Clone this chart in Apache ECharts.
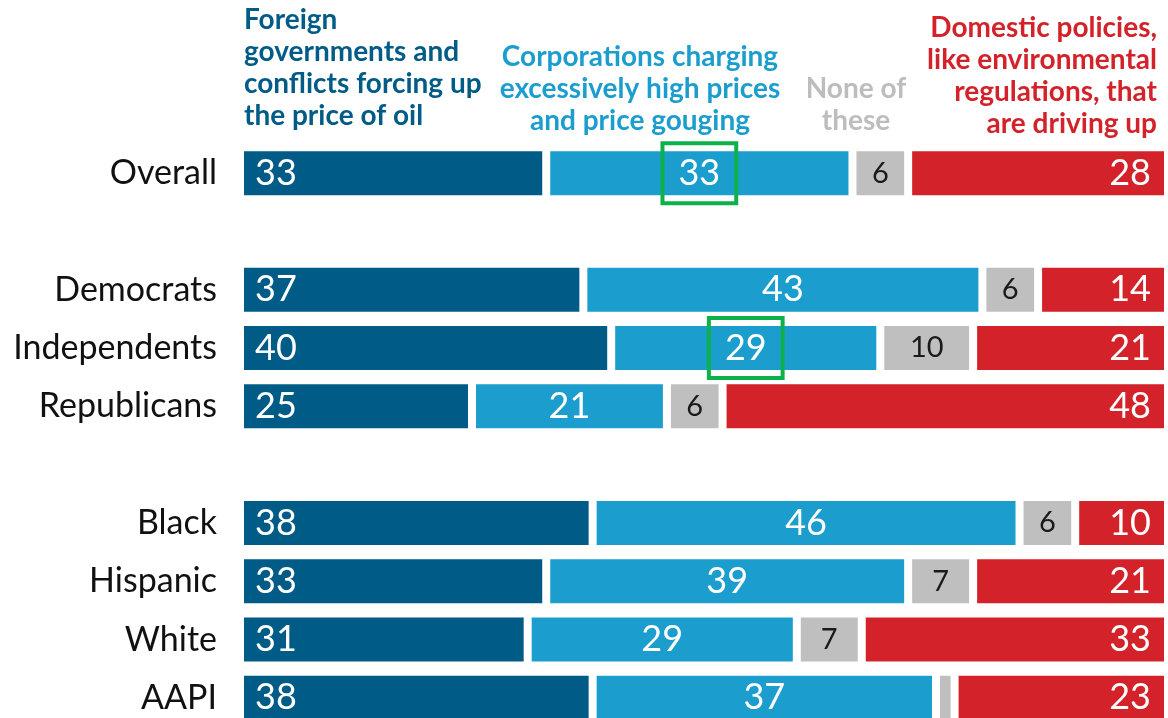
<!DOCTYPE html>
<html>
<head>
<meta charset="utf-8">
<script src="https://cdn.jsdelivr.net/npm/echarts@6/dist/echarts.min.js"></script>
<style>
	html, body { margin: 0; padding: 0; background: #fff; }
	#chart { width: 1168px; height: 718px; }
</style>
</head>
<body>
<div id="chart"></div>
<script>
// rows ('' = spacer row between groups)
var categories = ['Overall', '', 'Democrats', 'Independents', 'Republicans', '', 'Black', 'Hispanic', 'White', 'AAPI'];
var foreign      = [33, '-', 37, 40, 25, '-', 38, 33, 31, 38];
var corporations = [33, '-', 43, 29, 21, '-', 46, 39, 29, 37];
var noneOfThese  = [6,  '-', 6, 10, 6,  '-', 6, 7, 7, 2];
var domestic     = [28, '-', 14, 21, 48, '-', 10, 21, 33, 23];
// corporations labels boxed in green
var boxedRows = ['Overall', 'Independents'];

var darkBlue = '#005b87';
var lightBlue = '#1b9dce';
var grey = '#bfbfbf';
var red = '#d3222a';
var green = '#0db14b';
var font = 'Lato';

var chart = echarts.init(document.getElementById('chart'));

function barSeries(name, data, color, label) {
	return {
		name: name,
		type: 'bar',
		stack: 'total',
		barWidth: 52,
		data: data,
		itemStyle: { color: color, borderColor: '#fff', borderWidth: 4 },
		label: label
	};
}

var corpData = corporations.map(function (v, i) {
	if (boxedRows.indexOf(categories[i]) < 0) return v;
	return {
		value: v,
		label: { borderColor: green, borderWidth: 4, padding: [12, 16, 12, 16] }
	};
});

var option = {
	animation: false,
	grid: { left: 240, right: 0, top: 144, height: 583, outerBoundsMode: 'none' },
	xAxis: { type: 'value', min: 0, max: 100, show: false },
	yAxis: {
		type: 'category',
		inverse: true,
		data: categories,
		axisLine: { show: false },
		axisTick: { show: false },
		splitLine: { show: false },
		axisLabel: { color: '#111', fontSize: 34, fontFamily: font, margin: 23, padding: [4, 0, 0, 0] }
	},
	series: [
		barSeries('Foreign', foreign, darkBlue, {
			show: true, position: 'insideLeft', distance: 15,
			color: '#fff', fontSize: 36, fontFamily: font
		}),
		barSeries('Corporations', corpData, lightBlue, {
			show: true, position: 'inside', lineHeight: 36,
			color: '#fff', fontSize: 36, fontFamily: font
		}),
		barSeries('None', noneOfThese, grey, {
			show: true, position: 'inside',
			color: '#1a1a1a', fontSize: 29, fontFamily: font,
			formatter: function (p) { return p.value >= 5 ? p.value : ''; }
		}),
		barSeries('Domestic', domestic, red, {
			show: true, position: 'insideRight', distance: 17,
			color: '#fff', fontSize: 36, fontFamily: font
		})
	],
	graphic: [
		{ type: 'text', x: 244, y: 4, style: {
			text: 'Foreign\ngovernments and\nconflicts forcing up\nthe price of oil',
			fill: darkBlue, font: 'bold 28px Lato', lineHeight: 32, align: 'left', verticalAlign: 'top' } },
		{ type: 'text', x: 640, y: 41, style: {
			text: 'Corporations charging\nexcessively high prices\nand price gouging',
			fill: lightBlue, font: 'bold 28px Lato', lineHeight: 32, align: 'center', verticalAlign: 'top' } },
		{ type: 'text', x: 856, y: 73, style: {
			text: 'None of\nthese',
			fill: '#bdbdbd', font: 'bold 28px Lato', lineHeight: 32, align: 'center', verticalAlign: 'top' } },
		{ type: 'text', x: 1157, y: 12, style: {
			text: 'Domestic policies,\nlike environmental\nregulations, that\nare driving up',
			fill: red, font: 'bold 28px Lato', lineHeight: 32, align: 'right', verticalAlign: 'top' } }
	]
};

chart.setOption(option);
</script>
</body>
</html>
